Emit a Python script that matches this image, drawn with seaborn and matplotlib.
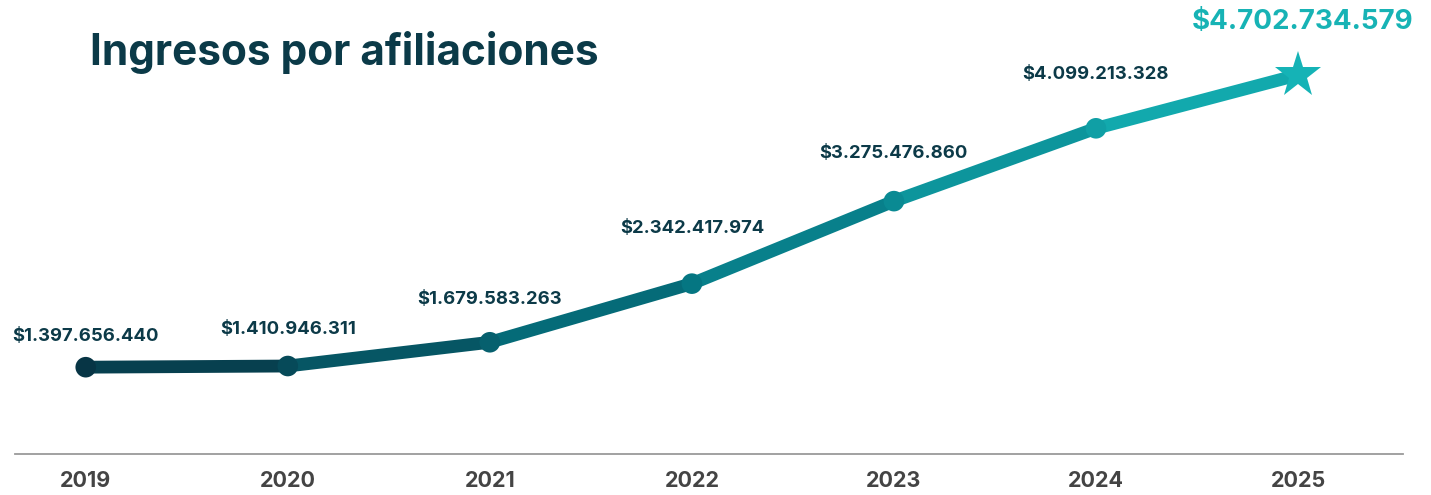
import numpy as np
import pandas as pd
import matplotlib
matplotlib.use('Agg')
import matplotlib.pyplot as plt
from matplotlib.collections import LineCollection
from matplotlib.colors import LinearSegmentedColormap
import seaborn as sns

# datos
anios = [2019, 2020, 2021, 2022, 2023, 2024, 2025]
ingresos = [1397656440, 1410946311, 1679583263, 2342417974, 3275476860, 4099213328, 4702734579]
etiquetas = ['$1.397.656.440', '$1.410.946.311', '$1.679.583.263', '$2.342.417.974',
             '$3.275.476.860', '$4.099.213.328', '$4.702.734.579']

sns.set_theme(style='white')
plt.rcParams['font.family'] = ['Inter', 'DejaVu Sans']

df = pd.DataFrame({'anio': anios, 'ingresos': ingresos})

cmap = LinearSegmentedColormap.from_list('teal', ['#073545', '#057682', '#15b3b6'])
n = len(anios)
colores = [cmap(i / (n - 1)) for i in range(n)]

fig = plt.figure(figsize=(14.31, 4.95), dpi=100)
ax = fig.add_axes([0.0105, 0.083, 0.970, 0.917])

# linea con degradado por tramo
pts = df[['anio', 'ingresos']].to_numpy(dtype=float)
segs = np.stack([pts[:-1], pts[1:]], axis=1)
seg_cols = [cmap((i + 0.5) / (n - 1)) for i in range(n - 1)]
lc = LineCollection(segs, colors=seg_cols, linewidths=9.2, capstyle='round', joinstyle='round', zorder=2)
ax.add_collection(lc)

# puntos
sns.scatterplot(data=df.iloc[:-1], x='anio', y='ingresos', hue='anio', palette=colores[:-1],
                s=220, linewidth=0, legend=False, zorder=3, ax=ax)
ax.plot(anios[-1], ingresos[-1], marker='*', markersize=35, color=colores[-1],
        markeredgewidth=0, zorder=4)

# etiquetas de valores
offsets = [31, 37, 43, 55, 48, 54, 0]
for i, (x, y, t) in enumerate(zip(anios, ingresos, etiquetas)):
    if i == n - 1:
        ax.annotate(t, (x, y), xytext=(5, 53), textcoords='offset pixels', ha='center', va='center',
                    fontsize=20, fontweight='bold', color='#17b3b5')
    else:
        ax.annotate(t, (x, y), xytext=(0, offsets[i]), textcoords='offset pixels', ha='center',
                    va='center', fontsize=13.3, fontweight='bold', color='#0c3a48')

ax.set_xlim(2018.65, 2025.52)
ax.set_ylim(0.417e9, 5.55e9)
ax.set_xticks(anios)
ax.set_xticklabels([str(a) for a in anios], fontsize=15.5, fontweight='bold', color='#444444')
ax.tick_params(axis='x', length=0, pad=12)
ax.set_yticks([])
ax.set_xlabel('')
ax.set_ylabel('')
for s in ['top', 'right', 'left']:
    ax.spines[s].set_visible(False)
ax.spines['bottom'].set_color('#9a9a9a')
ax.spines['bottom'].set_linewidth(1.3)

fig.text(0.063, 0.893, 'Ingresos por afiliaciones', fontsize=30.5, fontweight='bold',
         color='#0b3a48', ha='left', va='center')

fig.savefig('out.png', dpi=100, facecolor='white')
